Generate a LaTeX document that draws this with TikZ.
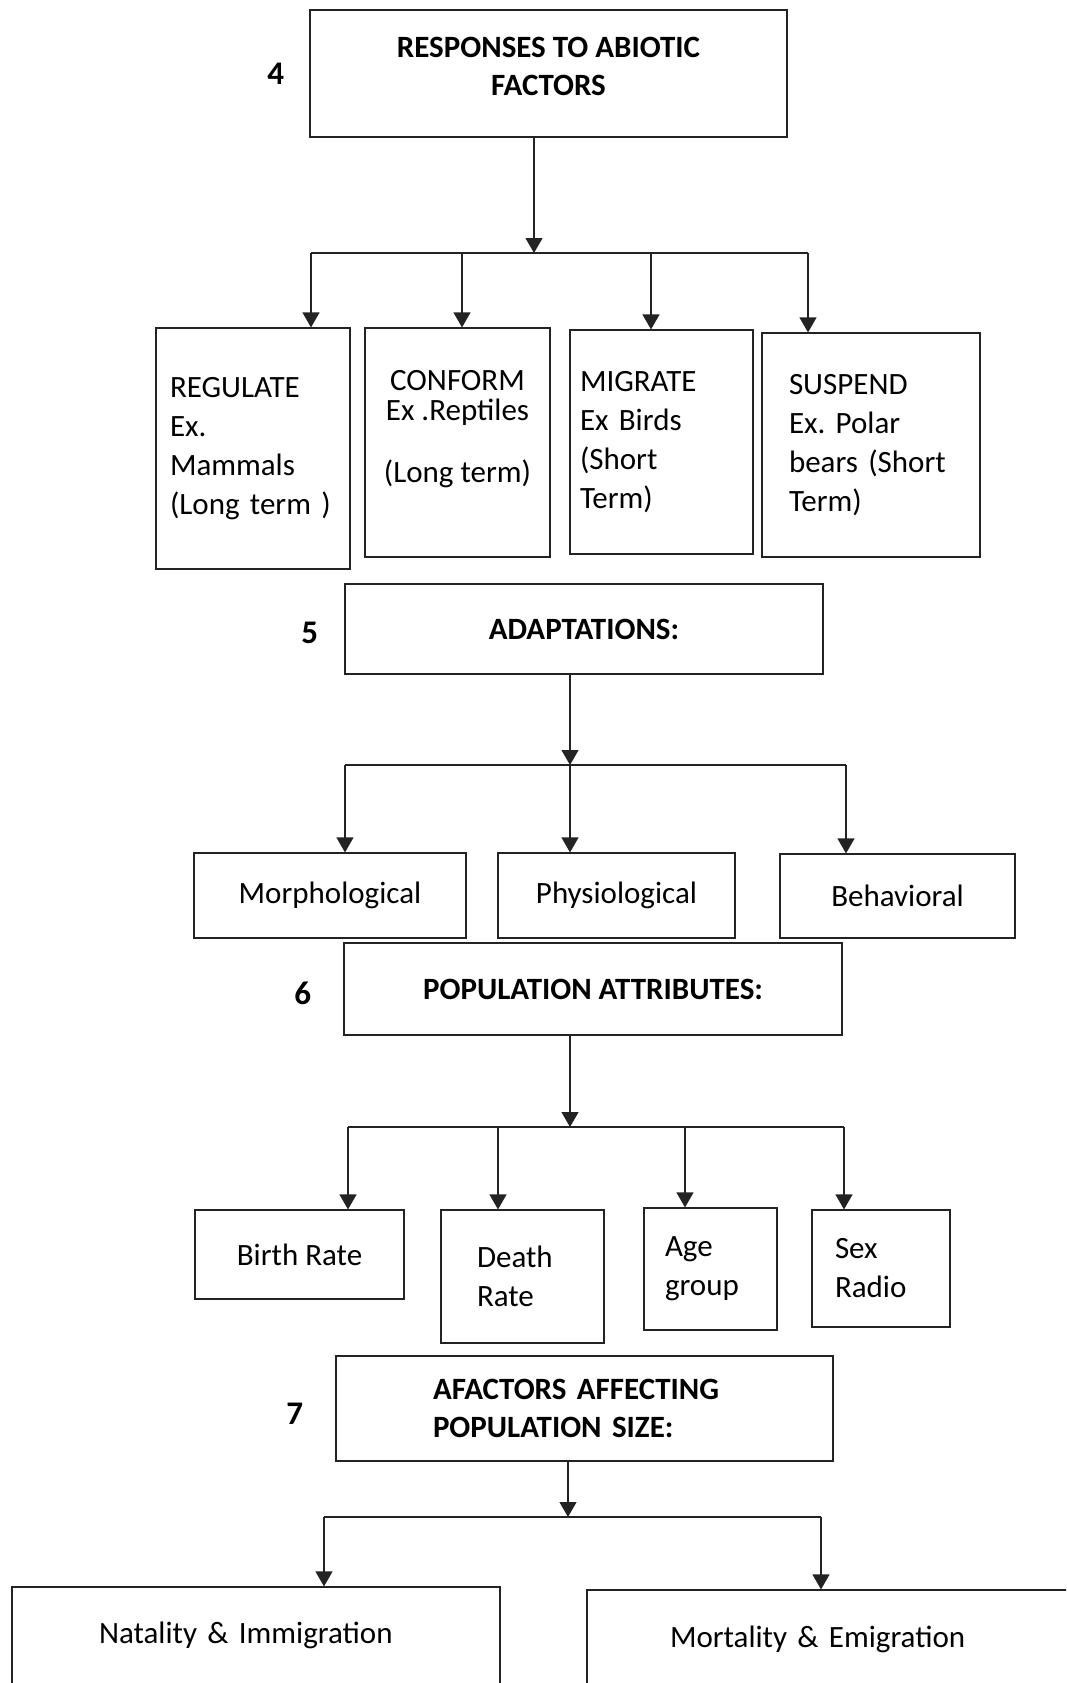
\documentclass[tikz,border=0pt]{standalone}
\usepackage{fontspec}
\setmainfont{Carlito}
\usetikzlibrary{positioning,arrows.meta}
\definecolor{BoxLine}{RGB}{35,35,35}
\tikzset{
  flow/.style={-{Triangle[length=15pt,width=17pt]},line width=1.2pt,draw=BoxLine},
  bus/.style={line width=1.2pt,draw=BoxLine},
  box/.style={draw=BoxLine,line width=1.2pt,align=center,inner sep=0pt,
    font=\fontsize{31}{39}\selectfont},
  headfont/.style={font=\fontsize{31}{38}\selectfont\bfseries},
  headbox/.style={box,headfont},
  leftbox/.style={box,align=left},
  num/.style={font=\fontsize{33}{33}\selectfont\bfseries,inner sep=0pt}
}

\begin{document}
\frenchspacing
\begin{tikzpicture}[x=1pt,y=-1pt]
  \useasboundingbox (0,0) rectangle (1066,1683);
  \clip (0,0) rectangle (1066,1683);

  % 4: responses to abiotic factors
  \node[headbox,minimum width=477pt,minimum height=127pt] (abiotic) at (548.5,73.5)
    {RESPONSES TO ABIOTIC\\FACTORS\rule[-14pt]{0pt}{14pt}};
  \node[num,left=25pt of abiotic] (n4) {4};
  \node[leftbox,minimum width=194pt,minimum height=241pt,text width=166pt] (regulate) at (253,448.5)
    {REGULATE\\Ex.\\Mammals\\(Long term )};
  \node[box,minimum width=185pt,minimum height=229pt] (conform) at (457.5,442.5)
    {CONFORM\\[-9pt]Ex .Reptiles\\[23pt](Long term)\rule[-33pt]{0pt}{33pt}};
  \node[leftbox,minimum width=183pt,minimum height=224pt,text width=163pt] (migrate) at (661.5,442)
    {MIGRATE\\Ex Birds\\(Short\\Term)};
  \node[leftbox,minimum width=218pt,minimum height=224pt,text width=164pt] (suspend) at (871,445)
    {SUSPEND\\Ex. Polar\\bears (Short\\Term)};

  % 5: adaptations
  \node[headbox,minimum width=478pt,minimum height=90pt] (adapt) at (584,629) {ADAPTATIONS:};
  \node[num,left=26pt of adapt,yshift=-4pt] (n5) {5};
  \node[box,minimum width=272pt,minimum height=85pt] (morph) at (330,895.5) {Morphological};
  \node[box,minimum width=237pt,minimum height=85pt] (physio) at (616.5,895.5) {Physiological};
  \node[box,minimum width=235pt,minimum height=84pt] (behav) at (897.5,896) {Behavioral};

  % 6: population attributes
  \node[headbox,minimum width=498pt,minimum height=92pt] (attrib) at (593,989) {POPULATION ATTRIBUTES:};
  \node[num,left=32pt of attrib,yshift=-4pt] (n6) {6};
  \node[box,minimum width=209pt,minimum height=89pt] (birth) at (299.5,1254.5) {Birth Rate};
  \node[leftbox,minimum width=163pt,minimum height=133pt,text width=91pt] (death) at (522.5,1276.5)
    {Death\\Rate};
  \node[leftbox,minimum width=133pt,minimum height=122pt,text width=91pt] (age) at (710.5,1269)
    {Age\\group};
  \node[leftbox,minimum width=138pt,minimum height=117pt,text width=92pt] (sex) at (881,1268.5)
    {Sex\\Radio};

  % 7: factors affecting population size
  \node[leftbox,headfont,minimum width=497pt,minimum height=105pt,text width=303pt] (factors) at (584.5,1408.5)
    {AFACTORS AFFECTING\\POPULATION SIZE:};
  \node[num,left=32pt of factors,yshift=-5.5pt] (n7) {7};
  \node[leftbox,minimum width=488pt,minimum height=113pt,text width=314pt] (natality) at (256,1643.5)
    {Natality \& Immigration\rule[-22pt]{0pt}{22pt}};
  \node[leftbox,minimum width=493pt,minimum height=110pt,text width=327pt] (mortality) at (833.5,1645)
    {Mortality \& Emigration\rule[-16pt]{0pt}{16pt}};

  % connectors
  \coordinate (busA) at (534,253);
  \coordinate (busB) at (570,765);
  \coordinate (busC) at (570,1127);
  \coordinate (busD) at (568,1517);
  \draw[flow] (abiotic.south -| busA) -- (busA);
  \draw[flow] (adapt.south -| busB) -- (busB);
  \draw[flow] (attrib.south -| busC) -- (busC);
  \draw[flow] (factors.south -| busD) -- (busD);

  \foreach \n/\dx in {regulate/58,conform/4.5,migrate/-10.5,suspend/-63,
                      morph/15,physio/-46.5,behav/-51.5,
                      birth/48.5,death/-24.5,age/-25.5,sex/-37,
                      natality/68,mortality/-12.5}
    \coordinate (in\n) at ([xshift=\dx pt]\n.north);

  \draw[bus] (inregulate |- busA) -- (insuspend |- busA);
  \draw[bus] (inmorph |- busB) -- (inbehav |- busB);
  \draw[bus] (inbirth |- busC) -- (insex |- busC);
  \draw[bus] (innatality |- busD) -- (inmortality |- busD);

  \foreach \n/\b in {regulate/busA,conform/busA,migrate/busA,suspend/busA,
                     morph/busB,physio/busB,behav/busB,
                     birth/busC,death/busC,age/busC,sex/busC,
                     natality/busD,mortality/busD}
    \draw[flow] (in\n |- \b) -- (in\n);
\end{tikzpicture}
\end{document}
